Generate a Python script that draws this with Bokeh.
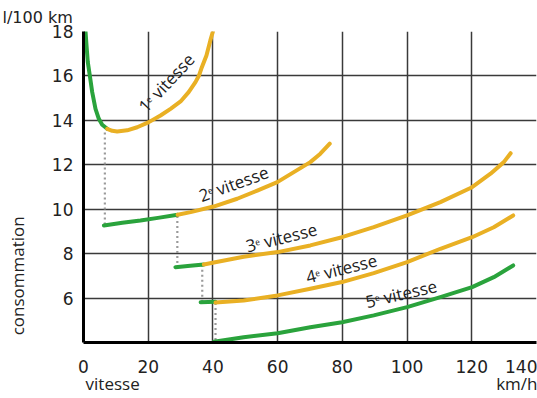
import math
from bokeh.plotting import figure
from bokeh.models import Range1d, FixedTicker, Label, LinearAxis
from bokeh.embed import file_html
from bokeh.resources import INLINE

# ---- data ----
x_ticks = [0, 20, 40, 60, 80, 100, 120, 140]
y_ticks = [6, 8, 10, 12, 14, 16, 18]

g1_green_x = [0.62, 0.93, 1.33, 1.95, 2.69, 3.71, 4.73, 5.78, 7.32]
g1_green_y = [18.0, 17.37, 16.62, 16.02, 15.27, 14.52, 14.07, 13.80, 13.62]
g1_yellow_x = [7.32, 8.87, 10.41, 13.5, 16.6, 20.2, 23.8, 26.9, 30.0, 32.5, 34.6, 35.7, 36.4, 38.0, 39.2, 40.0]
g1_yellow_y = [13.62, 13.53, 13.50, 13.55, 13.69, 13.92, 14.22, 14.52, 14.85, 15.27, 15.72, 16.02, 16.32, 16.92, 17.6, 18.0]

g2_green_x = [6.3, 12.0, 17.6, 23.0, 29.1]
g2_green_y = [9.27, 9.39, 9.49, 9.61, 9.75]
g2_yellow_x = [29.1, 33.1, 40.2, 47.5, 53.7, 59.9, 65.0, 70.1, 73.2, 76.1]
g2_yellow_y = [9.75, 9.87, 10.12, 10.47, 10.84, 11.22, 11.67, 12.12, 12.50, 12.95]

g3_green_x = [28.4, 33.0, 37.2]
g3_green_y = [7.39, 7.45, 7.51]
g3_yellow_x = [37.2, 40.3, 49.5, 60.0, 70.1, 79.9, 89.7, 100.0, 110.3, 120.1, 125.8, 129.9, 132.0]
g3_yellow_y = [7.51, 7.60, 7.86, 8.07, 8.37, 8.74, 9.19, 9.72, 10.32, 10.99, 11.60, 12.12, 12.52]

g4_green_x = [36.2, 40.8]
g4_green_y = [5.81, 5.83]
g4_yellow_x = [40.8, 49.5, 60.0, 70.1, 79.9, 89.7, 100.0, 110.3, 120.1, 126.8, 132.8]
g4_yellow_y = [5.80, 5.89, 6.12, 6.42, 6.72, 7.12, 7.62, 8.22, 8.74, 9.19, 9.72]

g5_green_x = [40.3, 49.5, 60.0, 70.1, 79.9, 89.7, 100.0, 110.3, 120.1, 126.8, 132.8]
g5_green_y = [4.03, 4.24, 4.42, 4.69, 4.91, 5.22, 5.59, 6.04, 6.49, 6.94, 7.47]

shift_x = [6.6, 29.0, 36.7, 40.8]
shift_top = [13.45, 9.7, 7.5, 5.78]
shift_bottom = [9.27, 7.39, 5.81, 4.03]

gear_labels = ["1\u1d49 vitesse", "2\u1d49 vitesse", "3\u1d49 vitesse", "4\u1d49 vitesse", "5\u1d49 vitesse"]
gear_label_x = [25.6, 46.4, 61.2, 79.7, 98.2]
gear_label_y = [15.7, 11.15, 8.73, 7.33, 6.2]
gear_label_angle = [47, 20, 14, 14, 13]

x_title = "vitesse"
x_unit = "km/h"
y_title = "consommation"
y_unit = "l/100 km"

GREEN = "#2aa33c"
YELLOW = "#e9b024"
TXT = "#222222"

p = figure(width=537, height=398, output_backend="svg", toolbar_location=None,
           x_range=Range1d(0, 140), y_range=Range1d(4, 18),
           min_border_left=83, min_border_right=1, min_border_top=31, min_border_bottom=56)
p.outline_line_color = None
p.background_fill_color = "white"
p.border_fill_color = "white"

for ax in (p.xaxis[0], p.yaxis[0]):
    ax.axis_line_color = "black"
    ax.axis_line_width = 3
    ax.major_tick_line_color = None
    ax.minor_tick_line_color = None
    ax.major_tick_in = 0
    ax.major_tick_out = 0
    ax.major_label_text_font = "DejaVu Sans"
    ax.major_label_text_font_size = "17px"
    ax.major_label_text_color = TXT

p.xaxis[0].ticker = FixedTicker(ticks=x_ticks)
p.yaxis[0].ticker = FixedTicker(ticks=y_ticks)
p.xaxis[0].major_label_standoff = 17
p.yaxis[0].major_label_standoff = 10

p.xgrid[0].ticker = FixedTicker(ticks=x_ticks)
p.ygrid[0].ticker = FixedTicker(ticks=y_ticks)
for g in (p.xgrid[0], p.ygrid[0]):
    g.grid_line_color = "#3a3a3a"
    g.grid_line_width = 1.5

# secondary "axes" that carry the axis titles as tick labels
def title_axis(tick_pos, labels, orientation="horizontal", standoff=0):
    ax = LinearAxis(ticker=FixedTicker(ticks=tick_pos),
                    major_label_overrides=dict(zip(tick_pos, labels)),
                    major_label_orientation=orientation)
    ax.axis_line_color = None
    ax.major_tick_line_color = None
    ax.minor_tick_line_color = None
    ax.major_tick_in = 0
    ax.major_tick_out = 0
    ax.major_label_standoff = standoff
    ax.major_label_text_font = "Open Sans"
    ax.major_label_text_font_size = "17px"
    ax.major_label_text_color = TXT
    return ax

p.add_layout(title_axis([9, 134], [x_title, x_unit], standoff=-4), "below")
p.add_layout(title_axis([7], [y_title], orientation="vertical", standoff=19), "left")

p.title.text = y_unit
p.title.align = "left"
p.title.offset = -81
p.title.standoff = 10
p.title.text_font = "DejaVu Sans"
p.title.text_font_size = "16px"
p.title.text_font_style = "normal"
p.title.text_color = TXT

kw = dict(line_width=4, line_cap="round", line_join="round")

# dotted connectors between gears
for sx, st, sb in zip(shift_x, shift_top, shift_bottom):
    p.line([sx, sx], [st, sb], line_color="#9a9a9a", line_width=2.2, line_dash="2 3")

p.line(g1_green_x, g1_green_y, line_color=GREEN, **kw)
p.line(g1_yellow_x, g1_yellow_y, line_color=YELLOW, **kw)
p.line(g2_green_x, g2_green_y, line_color=GREEN, **kw)
p.line(g2_yellow_x, g2_yellow_y, line_color=YELLOW, **kw)
p.line(g3_green_x, g3_green_y, line_color=GREEN, **kw)
p.line(g3_yellow_x, g3_yellow_y, line_color=YELLOW, **kw)
p.line(g4_green_x, g4_green_y, line_color=GREEN, **kw)
p.line(g4_yellow_x, g4_yellow_y, line_color=YELLOW, **kw)
p.line(g5_green_x, g5_green_y, line_color=GREEN, **kw)

for t, x, y, a in zip(gear_labels, gear_label_x, gear_label_y, gear_label_angle):
    p.add_layout(Label(x=x, y=y, text=t, angle=math.radians(a),
                       text_align="center", text_baseline="middle",
                       text_font="Open Sans", text_font_size="17px", text_color=TXT))

open("out.html", "w").write(file_html(p, INLINE))
